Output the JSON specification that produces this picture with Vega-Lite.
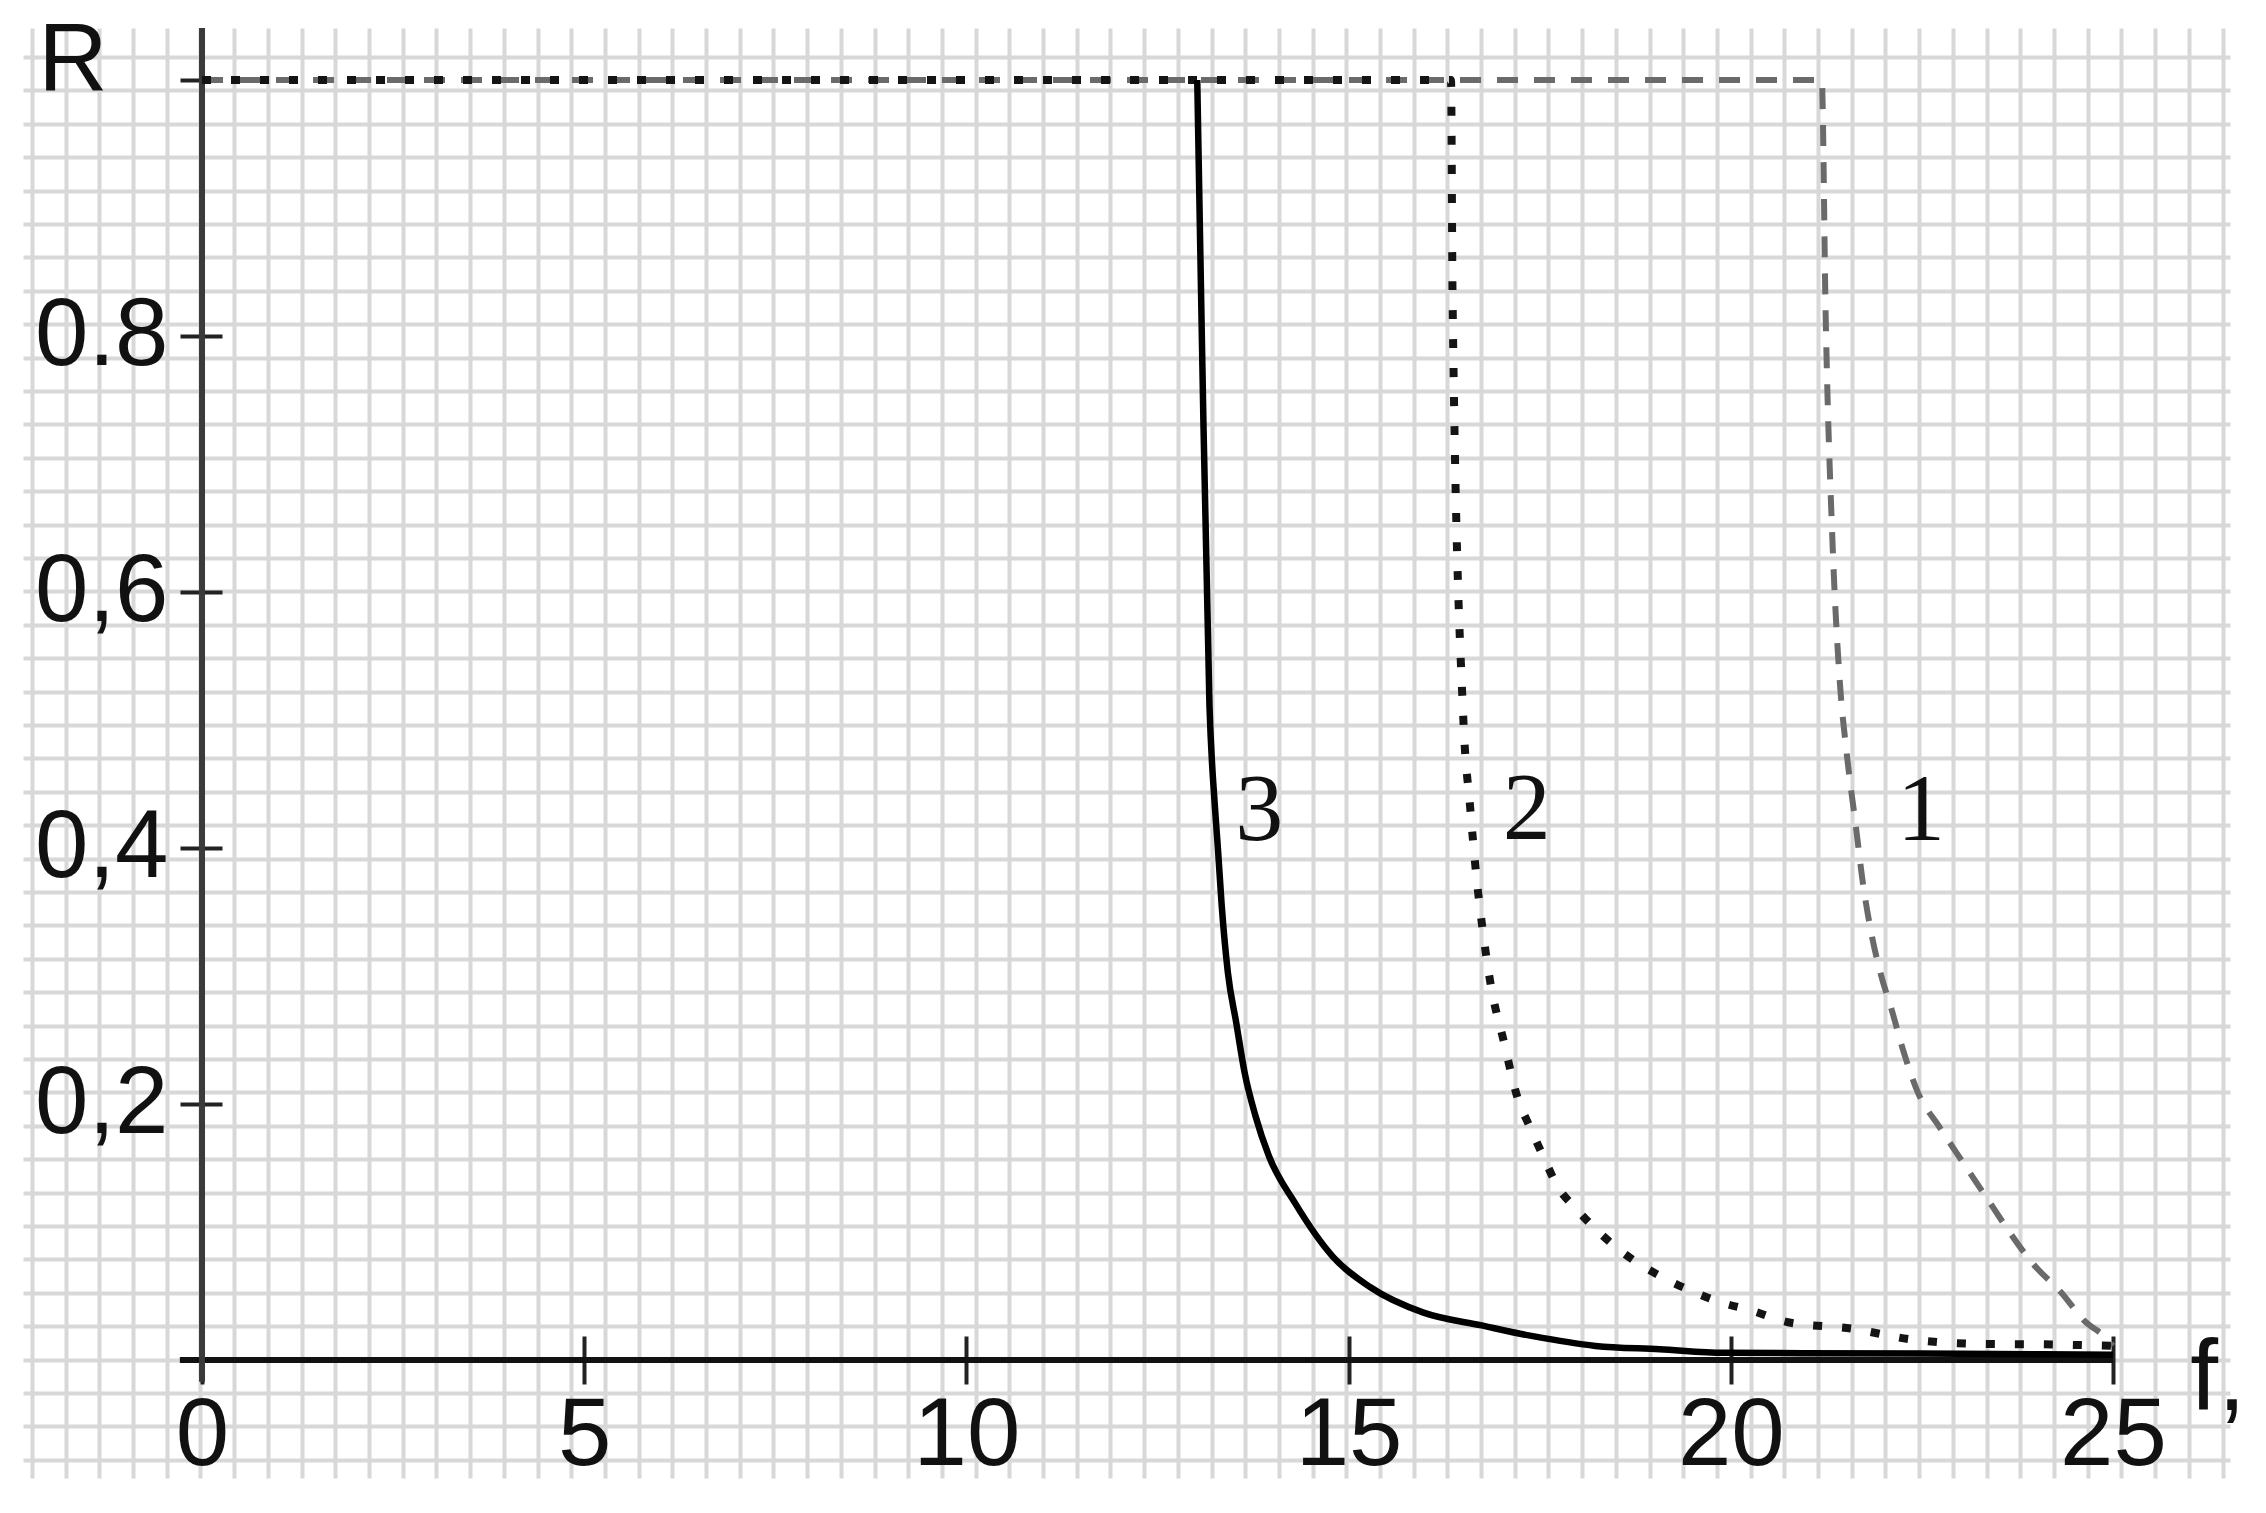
{
  "$schema": "https://vega.github.io/schema/vega-lite/v6.json",
  "width": 2207,
  "height": 1450,
  "autosize": "none",
  "padding": {"left": 23, "top": 28, "right": 36, "bottom": 35},
  "background": "white",
  "config": {"view": {"stroke": null}},
  "data": {
    "values": [
      {"curve": "1", "f": 0, "R": 1.0},
      {"curve": "1", "f": 21.19, "R": 1.0},
      {"curve": "1", "f": 21.24, "R": 0.82},
      {"curve": "1", "f": 21.33, "R": 0.64},
      {"curve": "1", "f": 21.42, "R": 0.535},
      {"curve": "1", "f": 21.52, "R": 0.472},
      {"curve": "1", "f": 21.63, "R": 0.42},
      {"curve": "1", "f": 21.73, "R": 0.372},
      {"curve": "1", "f": 21.85, "R": 0.33},
      {"curve": "1", "f": 21.96, "R": 0.302},
      {"curve": "1", "f": 22.11, "R": 0.2725},
      {"curve": "1", "f": 22.26, "R": 0.241},
      {"curve": "1", "f": 22.44, "R": 0.21},
      {"curve": "1", "f": 22.73, "R": 0.182},
      {"curve": "1", "f": 23.03, "R": 0.155},
      {"curve": "1", "f": 23.4, "R": 0.122},
      {"curve": "1", "f": 23.6, "R": 0.104},
      {"curve": "1", "f": 23.97, "R": 0.074},
      {"curve": "1", "f": 24.32, "R": 0.053},
      {"curve": "1", "f": 24.62, "R": 0.031},
      {"curve": "1", "f": 24.93, "R": 0.016},
      {"curve": "1", "f": 25.0, "R": 0.011},
      {"curve": "2", "f": 0, "R": 1.0},
      {"curve": "2", "f": 16.34, "R": 1.0},
      {"curve": "2", "f": 16.36, "R": 0.83},
      {"curve": "2", "f": 16.5, "R": 0.502},
      {"curve": "2", "f": 16.59, "R": 0.432},
      {"curve": "2", "f": 16.67, "R": 0.379},
      {"curve": "2", "f": 16.75, "R": 0.338},
      {"curve": "2", "f": 16.86, "R": 0.293},
      {"curve": "2", "f": 17.03, "R": 0.249},
      {"curve": "2", "f": 17.21, "R": 0.205},
      {"curve": "2", "f": 17.36, "R": 0.1835},
      {"curve": "2", "f": 17.54, "R": 0.16},
      {"curve": "2", "f": 17.73, "R": 0.136},
      {"curve": "2", "f": 17.98, "R": 0.118},
      {"curve": "2", "f": 18.75, "R": 0.077},
      {"curve": "2", "f": 19.08, "R": 0.0655},
      {"curve": "2", "f": 19.5, "R": 0.0535},
      {"curve": "2", "f": 19.87, "R": 0.045},
      {"curve": "2", "f": 20.25, "R": 0.039},
      {"curve": "2", "f": 20.75, "R": 0.0295},
      {"curve": "2", "f": 21.59, "R": 0.0244},
      {"curve": "2", "f": 22.34, "R": 0.0162},
      {"curve": "2", "f": 23.26, "R": 0.0126},
      {"curve": "2", "f": 24.1, "R": 0.0122},
      {"curve": "2", "f": 25.0, "R": 0.011},
      {"curve": "3", "f": 13.02, "R": 1.0},
      {"curve": "3", "f": 13.08, "R": 0.8},
      {"curve": "3", "f": 13.18, "R": 0.511},
      {"curve": "3", "f": 13.25, "R": 0.433},
      {"curve": "3", "f": 13.29, "R": 0.4},
      {"curve": "3", "f": 13.34, "R": 0.355},
      {"curve": "3", "f": 13.42, "R": 0.303},
      {"curve": "3", "f": 13.53, "R": 0.2635},
      {"curve": "3", "f": 13.64, "R": 0.2245},
      {"curve": "3", "f": 13.78, "R": 0.191},
      {"curve": "3", "f": 13.96, "R": 0.159},
      {"curve": "3", "f": 14.3, "R": 0.1225},
      {"curve": "3", "f": 14.79, "R": 0.081},
      {"curve": "3", "f": 15.28, "R": 0.057},
      {"curve": "3", "f": 15.98, "R": 0.037},
      {"curve": "3", "f": 16.74, "R": 0.027},
      {"curve": "3", "f": 17.41, "R": 0.0186},
      {"curve": "3", "f": 18.23, "R": 0.011},
      {"curve": "3", "f": 19.07, "R": 0.0084},
      {"curve": "3", "f": 19.91, "R": 0.0056},
      {"curve": "3", "f": 22.5, "R": 0.005},
      {"curve": "3", "f": 25.0, "R": 0.004}
    ]
  },
  "resolve": {"axis": {"x": "independent", "y": "independent"}},
  "layer": [
    {
      "data": {"values": [{}]},
      "mark": {"type": "rule", "color": "#111111", "strokeWidth": 6},
      "encoding": {
        "x": {"datum": -0.29, "type": "quantitative",
          "scale": {"domain": [-2.342, 26.531], "nice": false, "zero": false},
          "axis": {"orient": "top", "grid": true, "gridColor": "#d8d8d8", "gridWidth": 4, "gridOpacity": 1, "domain": false, "ticks": false, "labels": false, "title": null,
            "values": [-2.224, -1.783, -1.342, -0.901, -0.46, -0.02, 0.421, 0.862, 1.303, 1.744, 2.185, 2.626, 3.067, 3.507, 3.948, 4.389, 4.83, 5.271, 5.712, 6.153, 6.593, 7.034, 7.475, 7.916, 8.357, 8.798, 9.239, 9.68, 10.12, 10.561, 11.002, 11.443, 11.884, 12.325, 12.766, 13.207, 13.647, 14.088, 14.529, 14.97, 15.411, 15.852, 16.293, 16.734, 17.174, 17.615, 18.056, 18.497, 18.938, 19.379, 19.82, 20.261, 20.702, 21.143, 21.583, 22.024, 22.465, 22.906, 23.347, 23.788, 24.228, 24.669, 25.11, 25.551, 25.992, 26.433]}},
        "x2": {"datum": 25},
        "y": {"datum": 0, "type": "quantitative",
          "scale": {"domain": [-0.0922, 1.0406], "nice": false, "zero": false},
          "axis": {"orient": "right", "grid": true, "gridColor": "#d8d8d8", "gridWidth": 4, "gridOpacity": 1, "domain": false, "ticks": false, "labels": false, "title": null,
            "values": [1.018, 0.9919, 0.9658, 0.9397, 0.9136, 0.8875, 0.8614, 0.8353, 0.8092, 0.7831, 0.757, 0.7309, 0.7048, 0.6788, 0.6527, 0.6266, 0.6005, 0.5744, 0.5483, 0.5222, 0.4961, 0.47, 0.4439, 0.4178, 0.3917, 0.3656, 0.3395, 0.3134, 0.2873, 0.2612, 0.2352, 0.2091, 0.183, 0.1569, 0.1308, 0.1047, 0.0786, 0.0525, 0.0264, 0.0003, -0.0258, -0.0519, -0.078]}}
      }
    },
    {
      "data": {"values": [{}]},
      "mark": {"type": "rule", "color": "#3a3a3a", "strokeWidth": 6},
      "encoding": {
        "x": {"datum": 0, "type": "quantitative",
          "scale": {"domain": [-2.342, 26.531], "nice": false, "zero": false},
          "axis": {"orient": "bottom", "values": [0, 5, 10, 15, 20, 25], "offset": -142, "domain": false, "grid": false, "ticks": true, "tickSize": 48, "tickWidth": 4, "tickColor": "#222222", "labelFont": "Liberation Sans", "labelFontSize": 96, "labelColor": "#111111", "labelPadding": 4, "labelFlush": false, "labelOverlap": false, "labelBound": false, "title": null}},
        "y": {"datum": -0.017, "type": "quantitative",
          "scale": {"domain": [-0.0922, 1.0406], "nice": false, "zero": false},
          "axis": {"orient": "left", "values": [0.2, 0.4, 0.6, 0.8, 1.0], "offset": -199, "domain": false, "grid": false, "ticks": true, "tickSize": 42, "tickWidth": 4, "tickColor": "#222222", "labelFont": "Liberation Sans", "labelFontSize": 96, "labelColor": "#111111", "labelPadding": 12, "labelFlush": false, "labelOverlap": false, "labelBound": false, "title": null,
            "labelExpr": "datum.value == 1 ? '' : (datum.value == 0.8 ? '0.8' : replace(format(datum.value, '.1f'), '.', ','))"}},
        "y2": {"datum": 1.0406}
      }
    },
    {
      "transform": [{"filter": "datum.curve == '1'"}],
      "mark": {"type": "line", "color": "#6a6a6a", "strokeWidth": 6, "strokeDash": [21, 16], "strokeCap": "butt", "interpolate": "monotone"},
      "encoding": {
        "x": {"field": "f", "type": "quantitative", "scale": {"domain": [-2.342, 26.531], "nice": false, "zero": false}, "axis": null},
        "y": {"field": "R", "type": "quantitative", "scale": {"domain": [-0.0922, 1.0406], "nice": false, "zero": false}, "axis": null}
      }
    },
    {
      "transform": [{"filter": "datum.curve == '2'"}],
      "mark": {"type": "line", "color": "#141414", "strokeWidth": 8, "strokeDash": [9, 20], "strokeCap": "butt", "interpolate": "monotone"},
      "encoding": {
        "x": {"field": "f", "type": "quantitative", "scale": {"domain": [-2.342, 26.531], "nice": false, "zero": false}, "axis": null},
        "y": {"field": "R", "type": "quantitative", "scale": {"domain": [-0.0922, 1.0406], "nice": false, "zero": false}, "axis": null}
      }
    },
    {
      "transform": [{"filter": "datum.curve == '3'"}],
      "mark": {"type": "line", "color": "#000000", "strokeWidth": 6.5, "interpolate": "monotone"},
      "encoding": {
        "x": {"field": "f", "type": "quantitative", "scale": {"domain": [-2.342, 26.531], "nice": false, "zero": false}, "axis": null},
        "y": {"field": "R", "type": "quantitative", "scale": {"domain": [-0.0922, 1.0406], "nice": false, "zero": false}, "axis": null}
      }
    },
    {
      "data": {"values": [{}]},
      "mark": {"type": "text", "font": "Liberation Serif", "fontSize": 96, "color": "#111111", "align": "center", "baseline": "middle"},
      "encoding": {
        "x": {"datum": 13.83, "type": "quantitative", "axis": null},
        "y": {"datum": 0.429, "type": "quantitative", "axis": null},
        "text": {"value": "3"}
      }
    },
    {
      "data": {"values": [{}]},
      "mark": {"type": "text", "font": "Liberation Serif", "fontSize": 96, "color": "#111111", "align": "center", "baseline": "middle"},
      "encoding": {
        "x": {"datum": 17.33, "type": "quantitative", "axis": null},
        "y": {"datum": 0.43, "type": "quantitative", "axis": null},
        "text": {"value": "2"}
      }
    },
    {
      "data": {"values": [{}]},
      "mark": {"type": "text", "font": "Liberation Serif", "fontSize": 96, "color": "#111111", "align": "center", "baseline": "middle"},
      "encoding": {
        "x": {"datum": 22.49, "type": "quantitative", "axis": null},
        "y": {"datum": 0.429, "type": "quantitative", "axis": null},
        "text": {"value": "1"}
      }
    },
    {
      "data": {"values": [{}]},
      "mark": {"type": "text", "font": "Liberation Sans", "fontSize": 96, "color": "#111111", "align": "center", "baseline": "middle"},
      "encoding": {
        "x": {"datum": -1.688, "type": "quantitative", "axis": null},
        "y": {"datum": 1.014, "type": "quantitative", "axis": null},
        "text": {"value": "R"}
      }
    },
    {
      "data": {"values": [{}]},
      "mark": {"type": "text", "font": "Liberation Sans", "fontSize": 100, "color": "#111111", "align": "left", "baseline": "alphabetic"},
      "encoding": {
        "x": {"datum": 26.01, "type": "quantitative", "axis": null},
        "y": {"datum": -0.039, "type": "quantitative", "axis": null},
        "text": {"value": "f,"}
      }
    }
  ]
}
